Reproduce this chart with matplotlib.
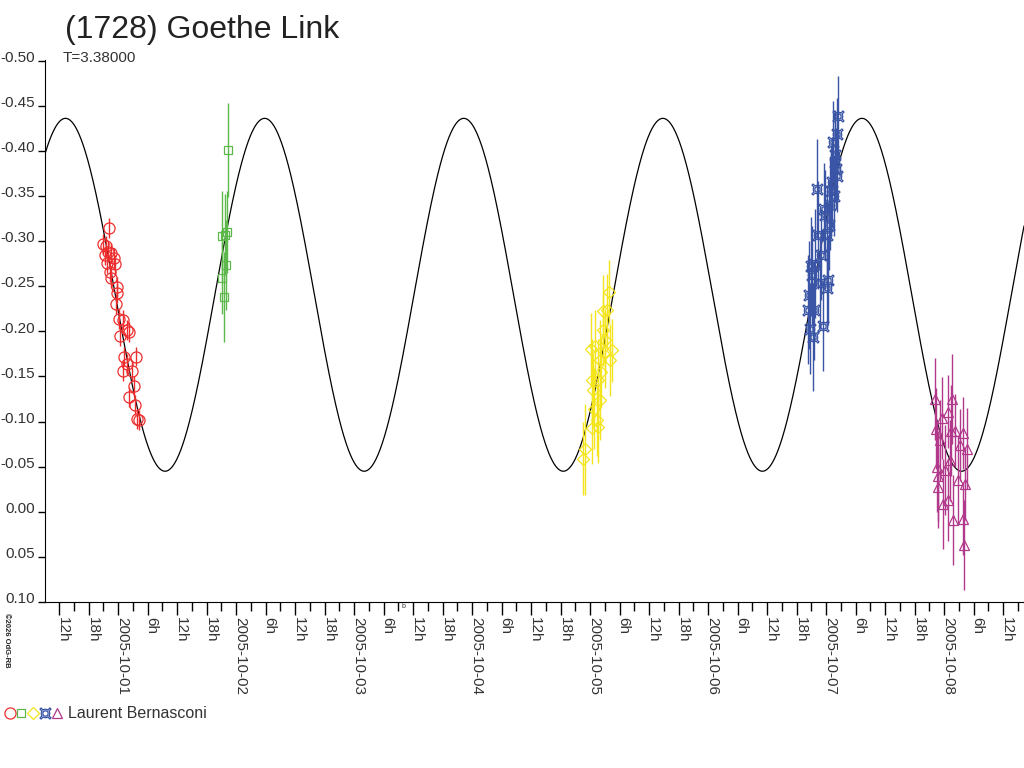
import numpy as np
import matplotlib.pyplot as plt
from matplotlib.ticker import MultipleLocator, FuncFormatter
from matplotlib.lines import Line2D
import matplotlib.transforms as mtransforms

plt.rcParams['font.family'] = ['Liberation Sans', 'DejaVu Sans']

# time in hours from 2005-10-01 00:00, values in magnitudes
red_t = [-1.83, -2.99, -2.50, -1.97, -1.48, -2.64, -0.81, -2.30, -0.55, -1.63, -1.36, -0.14, -0.26,
         -0.41, 0.26, 0.96, 1.89, 2.30, 0.41, 1.22, 3.66, 1.89, 1.08, 2.79, 3.32, 2.30, 3.46, 3.80, 4.27]
red_v = [-0.314, -0.297, -0.294, -0.288, -0.287, -0.284, -0.281, -0.276, -0.274, -0.266, -0.259, -0.249,
         -0.242, -0.230, -0.214, -0.212, -0.201, -0.199, -0.195, -0.172, -0.172, -0.164, -0.156, -0.156,
         -0.139, -0.127, -0.118, -0.103, -0.102]
red_e = [0.011] * len(red_t)

green_t = [22.31, 22.11, 21.21, 21.76, 21.97, 21.09, 21.50]
green_v = [-0.401, -0.310, -0.305, -0.307, -0.273, -0.259, -0.238]
green_e = [0.052, 0.045, 0.05, 0.045, 0.05, 0.04, 0.05]

yellow_t = [99.86, 98.71, 96.14, 100.41, 100.07, 96.35, 96.67, 96.80, 97.69, 94.98, 94.64,
            97.02, 98.03, 98.64, 99.46, 97.63, 99.05, 98.03, 97.42, 96.41, 99.05, 98.24]
yellow_v = [-0.244, -0.222, -0.180, -0.179, -0.168, -0.146, -0.135, -0.114, -0.094, -0.069, -0.059,
            -0.184, -0.168, -0.201, -0.223, -0.146, -0.177, -0.124, -0.102, -0.093, -0.190, -0.155]
yellow_e = [0.035, 0.04, 0.04, 0.035, 0.04, 0.045, 0.04, 0.045, 0.04, 0.05, 0.04,
            0.04, 0.045, 0.04, 0.04, 0.045, 0.04, 0.045, 0.04, 0.04, 0.035, 0.04]

blue_t = [146.50, 146.30, 142.11, 143.59, 143.80, 142.44, 144.14, 140.89, 141.76, 142.78, 144.47, 144.26,
          140.40, 141.56, 140.75, 143.32, 141.42, 145.43, 145.84, 146.04, 145.23, 145.64, 144.82, 146.25,
          145.02, 141.10, 140.60, 142.95, 144.65, 145.90]
blue_v = [-0.438, -0.419, -0.358, -0.336, -0.329, -0.307, -0.307, -0.272, -0.275, -0.253, -0.257, -0.248,
          -0.224, -0.223, -0.203, -0.206, -0.194, -0.410, -0.395, -0.380, -0.365, -0.350, -0.340, -0.372,
          -0.355, -0.262, -0.240, -0.285, -0.318, -0.388]
blue_e = [0.045, 0.04, 0.055, 0.05, 0.05, 0.06, 0.05, 0.055, 0.06, 0.05, 0.05, 0.045,
          0.06, 0.055, 0.05, 0.05, 0.06, 0.045, 0.05, 0.045, 0.05, 0.045, 0.05, 0.04,
          0.05, 0.055, 0.06, 0.05, 0.05, 0.045]

mag_t = [166.17, 169.56, 168.87, 166.30, 169.40, 171.92, 172.62, 166.52, 172.27, 166.70, 167.86, 171.80,
         172.00, 167.19, 168.20, 169.22, 170.24, 170.85, 168.81, 169.83, 167.59, 171.25, 166.78]
mag_v = [-0.125, -0.125, -0.111, -0.092, -0.090, -0.087, -0.070, -0.050, -0.031, -0.027, -0.009, 0.0075,
         0.037, -0.079, -0.046, -0.057, -0.090, -0.035, -0.013, 0.009, -0.104, -0.074, -0.040]
mag_e = [0.045, 0.05, 0.04, 0.045, 0.05, 0.04, 0.045, 0.05, 0.04, 0.045, 0.05, 0.04,
         0.05, 0.045, 0.05, 0.045, 0.04, 0.05, 0.045, 0.05, 0.045, 0.04, 0.05]

# fitted model (as drawn): mean, amplitude, apparent period (h), time of brightest (h)
fit_mean = -0.2404
fit_amp = 0.1955
fit_period = 40.5
fit_t0 = -10.68

series = [
    (red_t, red_v, red_e, '#ee2e2e', 'o', 8),
    (green_t, green_v, green_e, '#5cb84a', 's', 6),
    (yellow_t, yellow_v, yellow_e, '#f4e41c', 'D', 6),
    (blue_t, blue_v, blue_e, '#3a55a5', '$\u00a4$', 8),
    (mag_t, mag_v, mag_e, '#b1388a', '^', 7),
]

fig = plt.figure(figsize=(10.24, 7.68), dpi=100)
ax = fig.add_axes([45 / 1024, 1 - 602 / 768, 1 - 45 / 1024, (602 - 60.5) / 768])

x_lo, x_hi = -14.85, 184.27
tt = np.linspace(x_lo, x_hi, 2000)
ax.plot(tt, fit_mean - fit_amp * np.cos(2 * np.pi * (tt - fit_t0) / fit_period),
        color='black', lw=0.9, zorder=1)

for t, v, e, c, m, ms in series:
    ax.errorbar(t, v, yerr=e, fmt='none', ecolor=c, elinewidth=1, capsize=0, zorder=2)
    ax.plot(t, v, linestyle='none', marker=m, markersize=ms, markerfacecolor='none',
            markeredgecolor=c, markeredgewidth=0.9, zorder=3)

ax.set_xlim(x_lo, x_hi)
ax.set_ylim(0.10, -0.50)
ax.spines['top'].set_visible(False)
ax.spines['right'].set_visible(False)

yt = np.round(np.arange(-0.50, 0.101, 0.05), 2)
ax.set_yticks(yt)
ax.set_yticklabels(['%.2f' % (v + 0.0) for v in yt])
ax.tick_params(axis='y', length=5, width=1, labelsize=11, labelcolor='#333333', pad=2)


def hour_label(x, pos):
    h = int(round(x))
    if h % 24 == 0:
        return '2005-10-%02d' % (1 + h // 24)
    return '%dh' % (h % 24)


ax.xaxis.set_major_locator(MultipleLocator(6))
ax.xaxis.set_minor_locator(MultipleLocator(3))
ax.xaxis.set_major_formatter(FuncFormatter(hour_label))
ax.tick_params(axis='x', which='major', length=9, width=1, labelsize=11, labelcolor='#333333',
               labelrotation=270, pad=2)
ax.tick_params(axis='x', which='minor', length=6.5, width=1)

fig.canvas.draw()
xoff = mtransforms.ScaledTranslation(-2 / 72, 0, fig.dpi_scale_trans)
for lbl in ax.get_xticklabels():
    lbl.set_ha('left')
    lbl.set_va('top')
    lbl.set_transform(lbl.get_transform() + xoff)
off = mtransforms.ScaledTranslation(0, 3 / 72, fig.dpi_scale_trans)
for lbl in ax.get_yticklabels():
    lbl.set_transform(lbl.get_transform() + off)

fig.text(65 / 1024, 1 - 30 / 768, '(1728) Goethe Link', fontsize=23, color='#222222', va='center')
fig.text(63 / 1024, 1 - 58 / 768, 'T=3.38000', fontsize=11, color='#333333', va='center')
fig.text(3 / 1024, 1 - 613 / 768, '\u00a92026 OdG-RB', fontsize=5.5, color='#222222',
         rotation=270, ha='left', va='top', fontweight='bold')
fig.text(403 / 1024, 1 - 606 / 768, 'b', fontsize=5, color='#333333', ha='center', va='center')

# legend row at the bottom
leg_x = [10, 21, 33, 45, 57]
for (t, v, e, c, m, ms), lx in zip(series, leg_x):
    fig.add_artist(Line2D([lx / 1024], [1 - 713 / 768], marker=m, markersize=ms, linestyle='none',
                          markerfacecolor='none', markeredgecolor=c, markeredgewidth=0.9,
                          transform=fig.transFigure))
fig.text(68 / 1024, 1 - 713 / 768, 'Laurent Bernasconi', fontsize=11.5, color='#333333', va='center')

fig.savefig('out.png', dpi=100)
